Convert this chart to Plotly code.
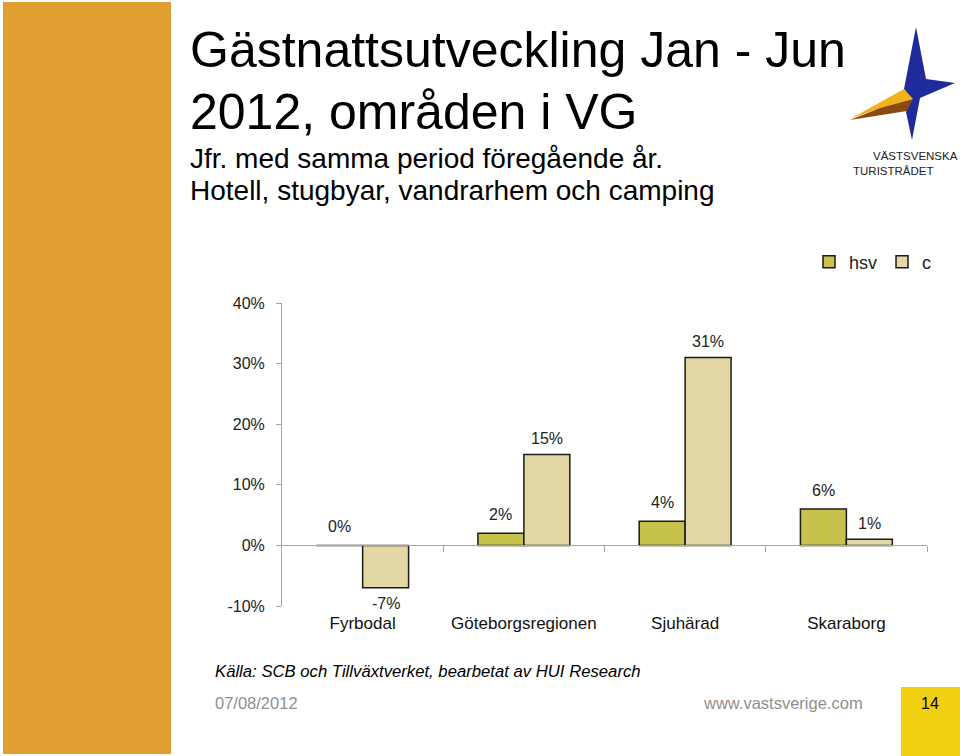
import plotly.graph_objects as go

# ---- data ----
categories = ["Fyrbodal", "Göteborgsregionen", "Sjuhärad", "Skaraborg"]
series_names = ["hsv", "c"]
hsv_values = [0, 2, 4, 6]
c_values = [-7, 15, 31, 1]
y_tickvals = [-10, 0, 10, 20, 30, 40]
y_ticktext = ["-10%", "0%", "10%", "20%", "30%", "40%"]

title_lines = ["Gästnattsutveckling Jan - Jun", "2012, områden i VG"]
subtitle_lines = ["Jfr. med samma period föregående år.", "Hotell, stugbyar, vandrarhem och camping"]
source_text = "Källa: SCB och Tillväxtverket, bearbetat av HUI Research"
date_text = "07/08/2012"
url_text = "www.vastsverige.com"
page_text = "14"
logo_lines = ["VÄSTSVENSKA", "TURISTRÅDET"]

# ---- layout geometry ----
W, H = 960, 756
L, R, T, B = 282, 33, 303, 150
PW, PH = W - L - R, H - T - B
YMIN, YMAX = -10, 40
FONT = "Liberation Sans, Arial, Helvetica, sans-serif"
BARGAP = 0.43
HSV_COLOR = "#C7C24B"
C_COLOR = "#E3D8A5"
AXIS_COLOR = "#A6A6A6"


def px(x):
    return (x - L) / PW


def py(y):
    return (H - B - y) / PH


fig = go.Figure()
fig.add_trace(go.Bar(x=categories, y=hsv_values, name=series_names[0],
                     marker=dict(color=HSV_COLOR, line=dict(color="#1a1a1a", width=1.5)),
                     hoverinfo="x+y"))
fig.add_trace(go.Bar(x=categories, y=c_values, name=series_names[1],
                     marker=dict(color=C_COLOR, line=dict(color="#1a1a1a", width=1.5)),
                     hoverinfo="x+y"))
# helper trace so the zero-line category axis exists
fig.add_trace(go.Scatter(x=[None], y=[None], xaxis="x2", yaxis="y",
                         showlegend=False, hoverinfo="skip"))

annotations = []
off = (1 - BARGAP) / 4
for i, v in enumerate(hsv_values):
    annotations.append(dict(x=i - off, y=v, xref="x", yref="y", text=f"{v}%",
                            showarrow=False, yshift=19 if v >= 0 else -15,
                            font=dict(family=FONT, size=16, color="#222")))
for i, v in enumerate(c_values):
    annotations.append(dict(x=i + off, y=v, xref="x", yref="y", text=f"{v}%",
                            showarrow=False, yshift=16 if v >= 0 else -16,
                            font=dict(family=FONT, size=16, color="#222")))

# titles
annotations.append(dict(x=px(188), y=py(50), xref="paper", yref="paper", text=title_lines[0],
                        xanchor="left", yanchor="middle", showarrow=False,
                        font=dict(family=FONT, size=50, color="#000")))
annotations.append(dict(x=px(188), y=py(112), xref="paper", yref="paper", text=title_lines[1],
                        xanchor="left", yanchor="middle", showarrow=False,
                        font=dict(family=FONT, size=50, color="#000")))
annotations.append(dict(x=px(188), y=py(158), xref="paper", yref="paper", text=subtitle_lines[0],
                        xanchor="left", yanchor="middle", showarrow=False,
                        font=dict(family=FONT, size=28, color="#000")))
annotations.append(dict(x=px(188), y=py(190), xref="paper", yref="paper", text=subtitle_lines[1],
                        xanchor="left", yanchor="middle", showarrow=False,
                        font=dict(family=FONT, size=28, color="#000")))
# footer
annotations.append(dict(x=px(213), y=py(671), xref="paper", yref="paper", text=f"<i>{source_text}</i>",
                        xanchor="left", yanchor="middle", showarrow=False,
                        font=dict(family=FONT, size=16.7, color="#000")))
annotations.append(dict(x=px(213), y=py(703), xref="paper", yref="paper", text=date_text,
                        xanchor="left", yanchor="middle", showarrow=False,
                        font=dict(family=FONT, size=16.5, color="#8f8f8f")))
annotations.append(dict(x=px(701), y=py(703), xref="paper", yref="paper", text=url_text,
                        xanchor="left", yanchor="middle", showarrow=False,
                        font=dict(family=FONT, size=16.5, color="#8f8f8f")))
annotations.append(dict(x=px(930), y=py(703), xref="paper", yref="paper", text=page_text,
                        xanchor="center", yanchor="middle", showarrow=False,
                        font=dict(family=FONT, size=16, color="#000")))
# logo text
annotations.append(dict(x=px(871), y=py(156), xref="paper", yref="paper", text=logo_lines[0],
                        xanchor="left", yanchor="middle", showarrow=False,
                        font=dict(family=FONT, size=11.5, color="#222")))
annotations.append(dict(x=px(851), y=py(171), xref="paper", yref="paper", text=logo_lines[1],
                        xanchor="left", yanchor="middle", showarrow=False,
                        font=dict(family=FONT, size=11.5, color="#222")))


def path(points):
    return "M " + " L ".join(f"{px(a):.5f},{py(b):.5f}" for a, b in points) + " Z"


shapes = [
    dict(type="rect", xref="paper", yref="paper", x0=px(3), x1=px(171), y0=py(754), y1=py(2),
         fillcolor="#E19F31", line=dict(width=0), layer="below"),
    dict(type="rect", xref="paper", yref="paper", x0=px(901), x1=px(962), y0=py(758), y1=py(687),
         fillcolor="#F2D014", line=dict(width=0), layer="below"),
    # logo star
    dict(type="path", xref="paper", yref="paper",
         path=path([(916, 27), (926, 79), (955, 83), (920, 98), (912, 140), (906, 112), (912, 99), (904, 89)]),
         fillcolor="#1F2A9C", line=dict(width=0)),
    dict(type="path", xref="paper", yref="paper",
         path=path([(850, 119), (904, 89), (913, 99), (880, 108)]),
         fillcolor="#F2B21E", line=dict(width=0)),
    dict(type="path", xref="paper", yref="paper",
         path=path([(850, 120), (880, 108), (913, 99), (907, 111)]),
         fillcolor="#8A4A12", line=dict(width=0)),
]

fig.update_layout(
    width=W, height=H, autosize=False,
    margin=dict(l=L, r=R, t=T, b=B),
    paper_bgcolor="white", plot_bgcolor="white",
    font=dict(family=FONT, color="#222"),
    barmode="group", bargap=BARGAP, bargroupgap=0,
    showlegend=True,
    legend=dict(orientation="h", x=1 + 10 / PW, xanchor="right", y=1 + 41 / PH, yanchor="middle",
                font=dict(family=FONT, size=18, color="#222"), bgcolor="rgba(0,0,0,0)",
                itemwidth=30, tracegroupgap=0),
    xaxis=dict(type="category", categoryarray=categories, showline=False, ticks="",
               showgrid=False, zeroline=False, tickfont=dict(family=FONT, size=17, color="#111"),
               ticklabelstandoff=5,
               range=[-0.5, len(categories) - 0.5], fixedrange=True),
    xaxis2=dict(overlaying="x", anchor="free", position=(0 - YMIN) / (YMAX - YMIN),
                range=[-0.5, len(categories) - 0.5],
                tickvals=[i + 0.5 for i in range(len(categories))],
                ticks="outside", ticklen=6, tickcolor=AXIS_COLOR, showline=True, linecolor=AXIS_COLOR,
                linewidth=1, showticklabels=False, showgrid=False, zeroline=False, fixedrange=True),
    yaxis=dict(range=[YMIN, YMAX], tickvals=y_tickvals, ticktext=y_ticktext, showline=True,
               linecolor=AXIS_COLOR, linewidth=1, ticks="outside", ticklen=5, tickcolor=AXIS_COLOR,
               showgrid=False, zeroline=False, ticklabelstandoff=8,
               tickfont=dict(family=FONT, size=16, color="#222"), fixedrange=True),
    annotations=annotations,
    shapes=shapes,
)

fig.write_html("out.html", config={"displayModeBar": False},
               post_script="document.body.style.margin='0';")
